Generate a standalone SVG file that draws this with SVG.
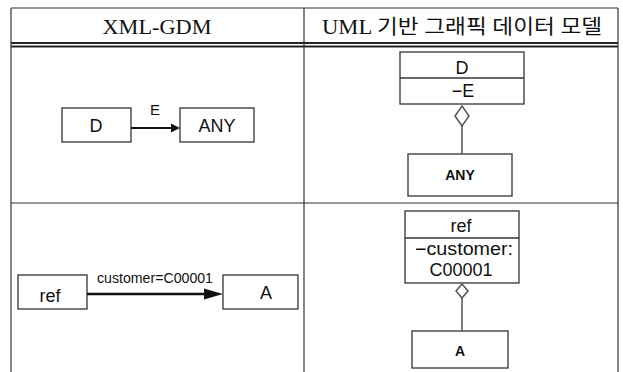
<svg xmlns="http://www.w3.org/2000/svg" width="623" height="372" viewBox="0 0 623 372">
<style>
.grid{stroke:#333;stroke-width:1.2;fill:none}
.dbl{stroke:#222;stroke-width:1.8;fill:none}
.box{fill:#fff;stroke:#333;stroke-width:1.3}
.hdr{font-family:"Liberation Serif","Noto Sans CJK KR",serif;font-size:20px;fill:#111;text-anchor:middle}
.lbl{font-family:"Liberation Sans",Arial,sans-serif;font-size:18px;fill:#111;text-anchor:middle}
.bold{font-family:"Liberation Sans",Arial,sans-serif;font-size:14px;font-weight:bold;fill:#111;text-anchor:middle}
.conn{stroke:#111;fill:none}
.agg{stroke:#555;stroke-width:1.5;fill:none}
</style>
<rect width="623" height="372" fill="#fff"/>
<g id="table">
<line class="grid" x1="11" y1="8" x2="618" y2="8"/>
<line class="dbl" x1="11" y1="43" x2="618" y2="43"/>
<line class="dbl" x1="11" y1="46.5" x2="618" y2="46.5"/>
<line class="grid" x1="11" y1="203" x2="618" y2="203"/>
<line class="grid" x1="11" y1="8" x2="11" y2="372"/>
<line class="grid" x1="304" y1="8" x2="304" y2="372"/>
<line class="grid" x1="618" y1="8" x2="618" y2="372"/>
<text class="hdr" x="157" y="34" textLength="109" lengthAdjust="spacingAndGlyphs">XML-GDM</text>
<text class="hdr" x="462" y="34" textLength="280" lengthAdjust="spacingAndGlyphs">UML 기반 그래픽 데이터 모델</text>
</g>
<g id="node-D-left">
<rect class="box" x="62" y="108" width="69" height="34"/>
<text class="lbl" x="96" y="132">D</text>
</g>
<g id="node-ANY-left">
<rect class="box" x="180" y="108" width="74" height="34"/>
<text class="lbl" x="217" y="132">ANY</text>
</g>
<g id="node-ref-left">
<rect class="box" x="18" y="275" width="69" height="34"/>
<text class="lbl" x="50" y="302">ref</text>
</g>
<g id="node-A-left">
<rect class="box" x="223" y="275" width="75" height="34"/>
<text class="lbl" x="266" y="299">A</text>
</g>
<g id="node-D-uml">
<rect class="box" x="400" y="52" width="124" height="52"/>
<line class="box" x1="400" y1="78" x2="524" y2="78"/>
<text class="lbl" x="462" y="74">D</text>
<text class="lbl" x="463" y="97">−E</text>
</g>
<g id="node-ANY-uml">
<rect class="box" x="408" y="154" width="104" height="42"/>
<text class="bold" x="460" y="180">ANY</text>
</g>
<g id="node-ref-uml">
<rect class="box" x="405" y="211" width="114" height="72"/>
<line class="box" x1="405" y1="238" x2="519" y2="238"/>
<text class="lbl" x="461" y="232">ref</text>
<text class="lbl" x="464" y="255" textLength="98" lengthAdjust="spacingAndGlyphs">−customer:</text>
<text class="lbl" x="461" y="276">C00001</text>
</g>
<g id="node-A-uml">
<rect class="box" x="412" y="331" width="96" height="37"/>
<text class="bold" x="460" y="356">A</text>
</g>
<g id="connectors">
<line class="conn" x1="131" y1="128" x2="173" y2="128" stroke-width="2"/>
<polygon points="171,123.5 180,128 171,132.5" fill="#111"/>
<text x="155" y="115" font-family="Liberation Sans, Arial, sans-serif" font-size="15" text-anchor="middle" fill="#111">E</text>
<line class="conn" x1="87" y1="294" x2="207" y2="294" stroke-width="2.5"/>
<polygon points="204,288.5 223,294 204,299.5" fill="#111"/>
<text x="155" y="283" font-family="Liberation Sans, Arial, sans-serif" font-size="14" text-anchor="middle" fill="#111" textLength="116" lengthAdjust="spacingAndGlyphs">customer=C00001</text>
<polygon class="agg" points="462,106 469,116 462,126 455,116" fill="#fff"/>
<line class="agg" x1="462" y1="126" x2="462" y2="154"/>
<polygon class="agg" points="462,284 468,291 462,298 456,291" fill="#fff"/>
<line class="agg" x1="462" y1="298" x2="462" y2="331"/>
</g>
</svg>
